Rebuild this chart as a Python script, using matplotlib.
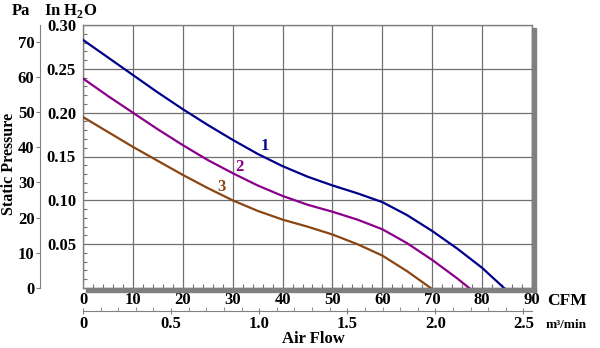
import numpy as np
import matplotlib
matplotlib.use("Agg")
import matplotlib.pyplot as plt
from matplotlib.patches import Rectangle
from matplotlib.ticker import MultipleLocator, FixedLocator

plt.rcParams['font.family'] = ['Liberation Serif', 'DejaVu Serif']
plt.rcParams['font.weight'] = 'bold'
plt.rcParams['mathtext.fontset'] = 'custom'
plt.rcParams['mathtext.rm'] = 'Liberation Serif:bold'
plt.rcParams['mathtext.bf'] = 'Liberation Serif:bold'

# fan curves, static pressure (inH2O) vs air flow (CFM)
cfm_1 = [0, 5, 10, 15, 20, 25, 30, 35, 40, 45, 50, 55, 60, 65, 70, 75, 80, 84.4]
pres_1 = [0.283, 0.263, 0.243, 0.223, 0.204, 0.186, 0.169, 0.153, 0.139, 0.127,
          0.117, 0.108, 0.098, 0.083, 0.065, 0.045, 0.023, 0.0]
cfm_2 = [0, 5, 10, 15, 20, 25, 30, 35, 40, 45, 50, 55, 60, 65, 70, 75, 77.4]
pres_2 = [0.239, 0.219, 0.200, 0.181, 0.163, 0.146, 0.131, 0.117, 0.105, 0.095,
          0.087, 0.078, 0.067, 0.051, 0.032, 0.011, 0.0]
cfm_3 = [0, 5, 10, 15, 20, 25, 30, 35, 40, 45, 50, 55, 60, 65, 69.7]
pres_3 = [0.195, 0.178, 0.161, 0.145, 0.129, 0.114, 0.100, 0.088, 0.078, 0.070,
          0.061, 0.050, 0.037, 0.019, 0.0]
curve_labels = ['1', '2', '3']
label_pos = [(36.4, 0.162), (31.4, 0.138), (27.7, 0.115)]
colors = ['#00008b', '#8b008b', '#8b4513']

CFM_PER_M3MIN = 35.3147
PA_PER_INH2O = 249.089

W, H = 600, 348
FS = 12
fig = plt.figure(figsize=(W / 100, H / 100), dpi=100)
L, R, T, B = 83, 532, 25, 288
ax = fig.add_axes([L / W, 1 - B / H, (R - L) / W, (B - T) / H])

for x, y, c in zip([cfm_1, cfm_2, cfm_3], [pres_1, pres_2, pres_3], colors):
    ax.plot(x, y, color=c, lw=1.6, solid_joinstyle='round', zorder=3)
for lab, (x, y), c in zip(curve_labels, label_pos, colors):
    ax.text(x, y, lab, color=c, fontsize=FS, fontweight='bold', ha='center', va='center')

ax.set_xlim(0, 90)
ax.set_ylim(0, 0.30)
ax.xaxis.set_major_locator(MultipleLocator(10))
ax.xaxis.set_minor_locator(MultipleLocator(2))
ax.yaxis.set_major_locator(FixedLocator([0.05, 0.10, 0.15, 0.20, 0.25, 0.30]))
ax.yaxis.set_minor_locator(MultipleLocator(0.01))
ax.yaxis.set_major_formatter(plt.FuncFormatter(lambda v, p: f"{v:.2f}"))
ax.grid(True, which='major', color='#707070', lw=0.9)
ax.tick_params(axis='both', which='major', length=0, labelsize=FS, colors='black')
ax.tick_params(axis='x', which='major', pad=3)
ax.tick_params(axis='y', which='major', pad=5)
ax.tick_params(axis='both', which='minor', direction='in', length=3, color='#707070', width=0.8)
for s in ax.spines.values():
    s.set_color('#808080')
    s.set_linewidth(1)

# drop shadow on the right and bottom
ax.add_patch(Rectangle((3 / 449, -4 / 263), 1 + 4 / 449 - 3 / 449, 4 / 263,
                       transform=ax.transAxes, color='#808080', clip_on=False, zorder=4))
ax.add_patch(Rectangle((1.0, -4 / 263), 4 / 449, 264 / 263,
                       transform=ax.transAxes, color='#808080', clip_on=False, zorder=4))

# Pa axis
pa = ax.secondary_yaxis(-43 / 449, functions=(lambda v: v * PA_PER_INH2O,
                                              lambda v: v / PA_PER_INH2O))
pa.yaxis.set_major_locator(FixedLocator([0, 10, 20, 30, 40, 50, 60, 70]))
pa.tick_params(length=3, direction='out', pad=1, labelsize=FS, color='#808080')
pa.spines['left'].set_color('#808080')

# m3/min axis
m3 = ax.secondary_xaxis(-23 / 263, functions=(lambda v: v / CFM_PER_M3MIN,
                                              lambda v: v * CFM_PER_M3MIN))
m3.xaxis.set_major_locator(FixedLocator([0, 0.5, 1.0, 1.5, 2.0, 2.5]))
m3.xaxis.set_minor_locator(MultipleLocator(0.1))
m3.xaxis.set_major_formatter(plt.FuncFormatter(lambda v, p: '0' if v == 0 else f"{v:.1f}"))
m3.tick_params(which='major', direction='inout', length=5, pad=1, labelsize=FS, color='#808080')
m3.tick_params(which='minor', direction='in', length=3, color='#808080')
m3.spines['bottom'].set_color('#808080')

def ftxt(x, y, s, **kw):
    fig.text(x / W, 1 - y / H, s, fontweight='bold', **kw)

ftxt(21, 11, 'Pa', fontsize=FS, ha='center', va='center')
ftxt(44, 11, r'In H$_2$O', fontsize=FS, ha='left', va='center')
ftxt(567, 301, 'CFM', fontsize=FS + 0.5, ha='center', va='center')
ftxt(566, 325, 'm³/min', fontsize=9.5, ha='center', va='center')
ftxt(313, 339, 'Air Flow', fontsize=FS, ha='center', va='center')
ftxt(9, 164, 'Static Pressure', fontsize=FS - 0.5, ha='center', va='center', rotation=90)

fig.savefig('out.png', dpi=100)
